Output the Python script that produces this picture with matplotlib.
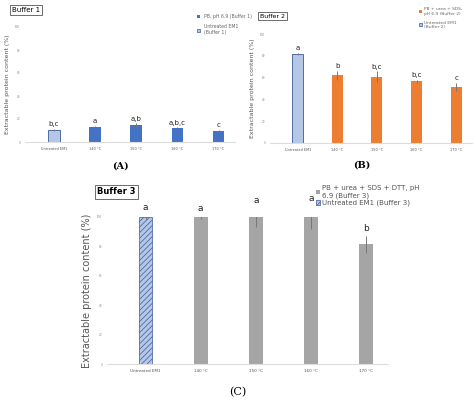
import matplotlib
matplotlib.use("Agg")
import matplotlib.pyplot as plt
from matplotlib.patches import Patch

cats = ["Untreated EM1", "140 °C", "150 °C", "160 °C", "170 °C"]
a_vals = [10.8, 13.0, 14.5, 12.0, 10.0]
a_err = [0.8, 0.8, 1.8, 0.8, 0.6]
a_let = ["b,c", "a", "a,b", "a,b,c", "c"]
b_vals = [82.0, 62.0, 60.7, 56.7, 51.5]
b_err = [1.0, 4.0, 5.0, 1.5, 3.5]
b_let = ["a", "b", "b,c", "b,c", "c"]
c_vals = [100.0, 100.0, 100.0, 100.0, 81.4]
c_err = [2.0, 1.5, 6.5, 8.0, 6.0]
c_let = ["a", "a", "a", "a", "b"]

W, H = 474, 400
fig = plt.figure(figsize=(4.74, 4.0), dpi=100)

def ax_px(x0, y0, x1, y1):
    return fig.add_axes([x0 / W, 1 - y1 / H, (x1 - x0) / W, (y1 - y0) / H])

def panel(ax, vals, errs, lets, color, ucolor, hatch, fs_tick, fs_lab, fs_let, lw=0.6, width=0.25):
    x = range(len(cats))
    cols = [ucolor] + [color] * 4
    bars = ax.bar(x, vals, width=width, color=cols, yerr=errs,
                  error_kw=dict(ecolor="#777777", elinewidth=0.7, capsize=0))
    bars[0].set_edgecolor("#3c5a9a")
    bars[0].set_linewidth(lw)
    if hatch:
        bars[0].set_hatch(hatch)
    for i, (v, e, l) in enumerate(zip(vals, errs, lets)):
        ax.text(i, v + e + 1.5, l, ha="center", va="bottom", fontsize=fs_let, color="#222222")
    ax.set_ylim(0, 100)
    ax.set_xlim(-0.7, 4.4)
    ax.set_yticks(range(0, 101, 20))
    ax.tick_params(axis="y", labelsize=2, length=0, colors="#888888")
    ax.tick_params(axis="x", labelsize=fs_tick, length=0, colors="#555555")
    ax.set_xticks(list(x))
    ax.set_xticklabels(cats)
    for s in ["top", "right", "left"]:
        ax.spines[s].set_visible(False)
    ax.spines["bottom"].set_color("#dddddd")
    ax.set_ylabel("Extractable protein content (%)", fontsize=fs_lab, color="#555555")

# Panel A
axA = ax_px(25, 27, 235, 142)
panel(axA, a_vals, a_err, a_let, "#4472c4", "#b4c7e7", None, 2.5, 4.5, 5, width=0.28)
fig.text(12 / W, 1 - 10 / H, "Buffer 1", fontsize=5, va="center",
         bbox=dict(boxstyle="square,pad=0.3", fc="white", ec="#555555", lw=0.6))
axA.legend(handles=[Patch(fc="#4472c4", label="PB, pH 6.9 (Buffer 1)"),
                    Patch(fc="#b4c7e7", ec="#3c5a9a", lw=0.5, label="Untreated EM1\n(Buffer 1)")],
           loc="upper left", bbox_to_anchor=(0.8, 1.15), frameon=False, fontsize=3.3,
           handlelength=0.6, handleheight=0.6, labelspacing=1.2, labelcolor="#666666")
fig.text(120 / W, 1 - 166 / H, "(A)", fontsize=7, fontweight="bold", family="serif", ha="center", va="center")

# Panel B
axB = ax_px(270, 34, 472, 143)
panel(axB, b_vals, b_err, b_let, "#ed7d31", "#b4c7e7", None, 2.5, 4.5, 5, width=0.28)
fig.text(260 / W, 1 - 16 / H, "Buffer 2", fontsize=4.5, va="center",
         bbox=dict(boxstyle="square,pad=0.3", fc="white", ec="#555555", lw=0.6))
axB.legend(handles=[Patch(fc="#ed7d31", label="PB + urea + SDS,\npH 6.9 (Buffer 2)"),
                    Patch(fc="#b4c7e7", ec="#3c5a9a", lw=0.5, label="Untreated EM1\n(Buffer 2)")],
           loc="upper left", bbox_to_anchor=(0.72, 1.28), frameon=False, fontsize=3.2,
           handlelength=0.6, handleheight=0.6, labelspacing=1.0, labelcolor="#666666",
           handletextpad=0.4)
fig.text(362 / W, 1 - 165 / H, "(B)", fontsize=7, fontweight="bold", family="serif", ha="center", va="center")

# Panel C
plt.rcParams["hatch.color"] = "#2f4f8f"
plt.rcParams["hatch.linewidth"] = 0.5
axC = ax_px(107, 217, 388, 364)
panel(axC, c_vals, c_err, c_let, "#a5a5a5", "#b4c7e7", "//////", 3, 7, 6.5, 0.5)
fig.text(97 / W, 1 - 192 / H, "Buffer 3", fontsize=6, va="center", fontweight="bold",
         bbox=dict(boxstyle="square,pad=0.3", fc="white", ec="#555555", lw=0.6))
axC.legend(handles=[Patch(fc="#a5a5a5", label="PB + urea + SDS + DTT, pH\n6.9 (Buffer 3)"),
                    Patch(fc="#b4c7e7", ec="#3c5a9a", hatch="//////", lw=0.5, label="Untreated EM1 (Buffer 3)")],
           loc="upper left", bbox_to_anchor=(0.72, 1.26), frameon=False, fontsize=5,
           handlelength=0.6, handleheight=0.6, labelspacing=0.2, labelcolor="#555555",
           handletextpad=0.3)
fig.text(238 / W, 1 - 392 / H, "(C)", fontsize=8, family="serif", ha="center", va="center")

fig.savefig("out.png", dpi=100)
